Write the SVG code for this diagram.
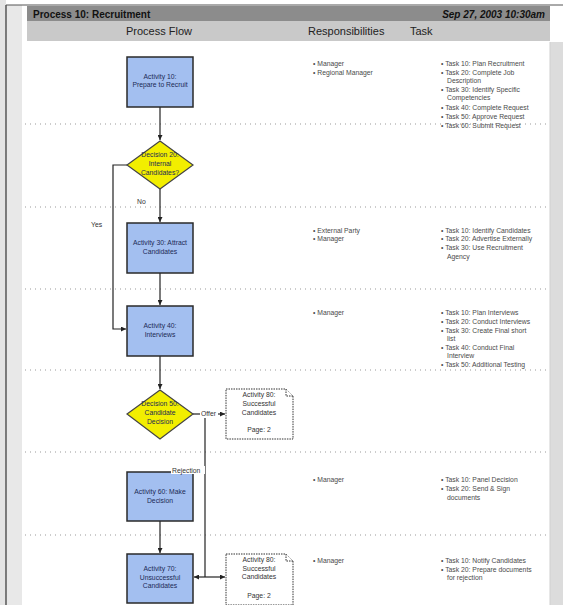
<svg xmlns="http://www.w3.org/2000/svg" width="563" height="605" viewBox="0 0 563 605">
<defs>
<style>
.hdr{font-family:"Liberation Sans",Arial,sans-serif;font-size:10px;font-weight:bold;fill:#111}
.col{font-family:"Liberation Sans",Arial,sans-serif;font-size:11px;fill:#222}
.t{font-family:"Liberation Sans",Arial,sans-serif;font-size:6.8px;fill:#4a4a4a}
.nt{font-family:"Liberation Sans",Arial,sans-serif;font-size:6.8px;fill:#1c2a55;text-anchor:middle}
.pt{font-family:"Liberation Sans",Arial,sans-serif;font-size:6.8px;fill:#333;text-anchor:middle}
.lbl{font-family:"Liberation Sans",Arial,sans-serif;font-size:6.8px;fill:#333}
.act{fill:#a3bff0;stroke:#2a2a2a;stroke-width:1.5}
.dec{fill:#f2ee00;stroke:#444;stroke-width:1.2}
.note{fill:#fff;stroke:#333;stroke-width:1;stroke-dasharray:1.5 1}
.sep{stroke:#999;stroke-width:1;stroke-dasharray:1 4}
.con{fill:none;stroke:#222;stroke-width:1.2}
</style>
<marker id="ah" markerWidth="5" markerHeight="5" refX="5" refY="2.5" orient="auto" markerUnits="userSpaceOnUse">
<path d="M0,0 L5,2.5 L0,5 z" fill="#222"/>
</marker>
</defs>

<!-- page frame -->
<rect x="0" y="0" width="563" height="605" fill="#ffffff"/>
<rect x="0" y="0" width="6" height="605" fill="#e4e4e4"/>
<rect x="6" y="5" width="16" height="600" fill="#e8e8e8"/>
<line x1="6" y1="5" x2="6" y2="605" stroke="#333" stroke-width="1.2"/>
<line x1="6" y1="5" x2="563" y2="5" stroke="#555" stroke-width="1"/>
<rect x="550" y="42" width="13" height="563" fill="#dcdcdc"/>
<line x1="550" y1="42" x2="550" y2="605" stroke="#cfcfcf" stroke-width="1"/>

<!-- header -->
<rect x="27" y="6" width="523" height="15" fill="#8c8c8c"/>
<rect x="27" y="21" width="523" height="20" fill="#c9c9c9"/>
<text class="hdr" x="33" y="18">Process 10: Recruitment</text>
<text class="hdr" x="545" y="18" text-anchor="end" font-style="italic">Sep 27, 2003 10:30am</text>
<text class="col" x="159" y="35" text-anchor="middle">Process Flow</text>
<text class="col" x="308" y="35">Responsibilities</text>
<text class="col" x="410" y="35">Task</text>

<!-- row separators -->
<g id="separators">
<line class="sep" x1="25" y1="124" x2="550" y2="124"/>
<line class="sep" x1="25" y1="207" x2="550" y2="207"/>
<line class="sep" x1="25" y1="289" x2="550" y2="289"/>
<line class="sep" x1="25" y1="370" x2="550" y2="370"/>
<line class="sep" x1="25" y1="452" x2="550" y2="452"/>
<line class="sep" x1="25" y1="535" x2="550" y2="535"/>
</g>

<!-- connectors -->
<g id="connectors">
<line class="con" x1="160" y1="107" x2="160" y2="140" marker-end="url(#ah)"/>
<line class="con" x1="160" y1="189" x2="160" y2="222" marker-end="url(#ah)"/>
<path class="con" d="M127,165 H113 V329 H126" marker-end="url(#ah)"/>
<line class="con" x1="160" y1="273" x2="160" y2="305" marker-end="url(#ah)"/>
<line class="con" x1="160" y1="356" x2="160" y2="389" marker-end="url(#ah)"/>
<line class="con" x1="193" y1="414" x2="225" y2="414" marker-end="url(#ah)"/>
<path class="con" d="M205,414 V577"/>
<line class="con" x1="205" y1="577" x2="194" y2="577" marker-end="url(#ah)"/>
<line class="con" x1="205" y1="577" x2="225" y2="577" marker-end="url(#ah)"/>
<line class="con" x1="160" y1="521" x2="160" y2="553" marker-end="url(#ah)"/>
<text class="lbl" x="137" y="204">No</text>
<text class="lbl" x="91" y="227">Yes</text>
</g>

<!-- nodes -->
<g id="activity10">
<rect class="act" x="127" y="57" width="66" height="50"/>
<text class="nt" x="160" y="79">Activity 10:</text>
<text class="nt" x="160" y="87">Prepare to Recruit</text>
</g>
<g id="decision20">
<polygon class="dec" points="160,141 193,165 160,189 127,165"/>
<text class="nt" x="160" y="157">Decision 20:</text>
<text class="nt" x="160" y="166">Internal</text>
<text class="nt" x="160" y="175">Candidates?</text>
</g>
<g id="activity30">
<rect class="act" x="127" y="223" width="66" height="50"/>
<text class="nt" x="160" y="245">Activity 30: Attract</text>
<text class="nt" x="160" y="254">Candidates</text>
</g>
<g id="activity40">
<rect class="act" x="127" y="306" width="66" height="50"/>
<text class="nt" x="160" y="328">Activity 40:</text>
<text class="nt" x="160" y="337">Interviews</text>
</g>
<g id="decision50">
<polygon class="dec" points="160,390 193,414 160,439 127,414"/>
<text class="nt" x="160" y="406">Decision 50:</text>
<text class="nt" x="160" y="415">Candidate</text>
<text class="nt" x="160" y="424">Decision</text>
</g>
<g id="offerLabel">
<rect x="200" y="410" width="18" height="8" fill="#fff"/>
<text class="lbl" x="201" y="416">Offer</text>
</g>
<g id="note1">
<path class="note" d="M226,389 H286 L293,396 V439 H226 Z"/>
<path class="note" d="M286,389 V396 H293"/>
<text class="pt" x="259" y="397">Activity 80:</text>
<text class="pt" x="259" y="406">Successful</text>
<text class="pt" x="259" y="415">Candidates</text>
<text class="pt" x="259" y="432">Page: 2</text>
</g>
<g id="activity60">
<rect class="act" x="127" y="472" width="66" height="49"/>
<text class="nt" x="160" y="494">Activity 60: Make</text>
<text class="nt" x="160" y="503">Decision</text>
</g>
<g id="rejectionLabel">
<rect x="171" y="466" width="34" height="8" fill="#fff"/>
<text class="lbl" x="172" y="473">Rejection</text>
</g>
<g id="activity70">
<rect class="act" x="127" y="554" width="66" height="49"/>
<text class="nt" x="160" y="571">Activity 70:</text>
<text class="nt" x="160" y="580">Unsuccessful</text>
<text class="nt" x="160" y="588">Candidates</text>
</g>
<g id="note2">
<path class="note" d="M226,554 H286 L293,561 V605 H226 Z"/>
<path class="note" d="M286,554 V561 H293"/>
<text class="pt" x="259" y="562">Activity 80:</text>
<text class="pt" x="259" y="571">Successful</text>
<text class="pt" x="259" y="579">Candidates</text>
<text class="pt" x="259" y="598">Page: 2</text>
</g>

<!-- responsibilities -->
<g id="responsibilities">
<text class="t" x="313" y="66">• Manager</text>
<text class="t" x="313" y="75">• Regional Manager</text>
<text class="t" x="313" y="233">• External Party</text>
<text class="t" x="313" y="241">• Manager</text>
<text class="t" x="313" y="315">• Manager</text>
<text class="t" x="313" y="482">• Manager</text>
<text class="t" x="313" y="563">• Manager</text>
</g>

<!-- tasks -->
<g id="tasks">
<text class="t" x="441" y="66">• Task 10: Plan Recruitment</text>
<text class="t" x="441" y="75">• Task 20: Complete Job</text>
<text class="t" x="447" y="83">Description</text>
<text class="t" x="441" y="92">• Task 30: Identify Specific</text>
<text class="t" x="447" y="100">Competencies</text>
<text class="t" x="441" y="110">• Task 40: Complete Request</text>
<text class="t" x="441" y="119">• Task 50: Approve Request</text>
<text class="t" x="441" y="128">• Task 60: Submit Request</text>

<text class="t" x="441" y="233">• Task 10: Identify Candidates</text>
<text class="t" x="441" y="241">• Task 20: Advertise Externally</text>
<text class="t" x="441" y="250">• Task 30: Use Recruitment</text>
<text class="t" x="447" y="259">Agency</text>

<text class="t" x="441" y="315">• Task 10: Plan Interviews</text>
<text class="t" x="441" y="324">• Task 20: Conduct Interviews</text>
<text class="t" x="441" y="333">• Task 30: Create Final short</text>
<text class="t" x="447" y="341">list</text>
<text class="t" x="441" y="350">• Task 40: Conduct Final</text>
<text class="t" x="447" y="358">Interview</text>
<text class="t" x="441" y="367">• Task 50: Additional Testing</text>

<text class="t" x="441" y="482">• Task 10: Panel Decision</text>
<text class="t" x="441" y="491">• Task 20: Send &amp; Sign</text>
<text class="t" x="447" y="500">documents</text>

<text class="t" x="441" y="563">• Task 10: Notify Candidates</text>
<text class="t" x="441" y="572">• Task 20: Prepare documents</text>
<text class="t" x="447" y="580">for rejection</text>
</g>
</svg>
